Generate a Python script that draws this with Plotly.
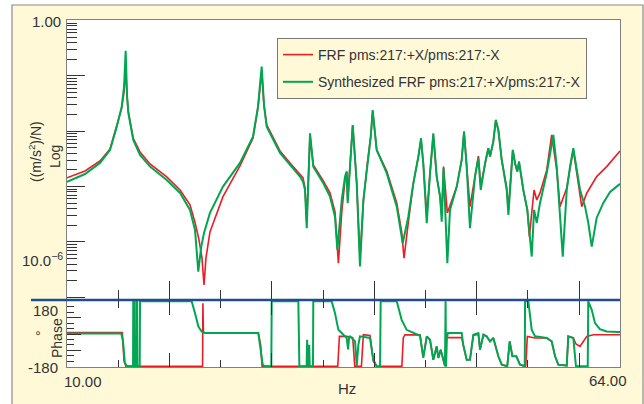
import plotly.graph_objects as go

# ---------------- data ----------------
# Magnitude (accelerance, (m/s^2)/N) - measured FRF (red)
frf_freq = [10.00, 11.76, 13.22, 14.20, 14.85, 15.34, 15.57, 15.73, 15.86, 15.99,
            16.47, 17.13, 18.11, 19.74, 21.04, 22.01, 22.50, 22.89, 23.18, 23.38,
            23.57, 23.96, 25.23, 26.89, 28.16, 28.65, 29.01, 29.24, 29.50, 30.80,
            31.78, 32.75, 33.05, 33.24, 33.41, 33.73, 34.05, 35.03, 35.68, 36.17,
            36.50, 36.83, 37.15, 37.31, 37.41, 37.90, 38.29, 38.61, 38.94, 39.33,
            39.66, 39.85, 40.24, 41.22, 42.20, 42.68, 42.91, 43.33, 43.82, 44.31,
            44.57, 44.79, 45.13, 45.45, 45.77, 46.10, 46.43, 46.59, 46.77, 47.14,
            47.40, 48.06, 48.54, 48.77, 49.03, 49.35, 49.84, 50.17, 50.40, 50.82,
            51.14, 51.31, 51.63, 51.87, 52.12, 52.45, 52.94, 53.10, 53.33, 53.53,
            53.75, 53.97, 54.14, 54.56, 54.95, 55.15, 55.41, 55.61, 55.87, 56.19,
            56.85, 57.33, 57.82, 58.14, 58.80, 59.12, 59.44, 59.93, 60.26, 60.75,
            61.72, 62.70, 64.00]
frf_mag = [1.44e-3, 1.92e-3, 2.91e-3, 4.79e-3, 1.25e-2, 2.64e-2, 5.12e-2, 1.39e-1, 4.34e-2, 2.23e-2,
           7.48e-3, 4.23e-3, 2.57e-3, 1.50e-3, 8.7e-4, 4.68e-4, 2.26e-4, 1.09e-4, 5.16e-5, 1.68e-5,
           5.16e-5, 1.52e-4, 6.6e-4, 2.37e-3, 7.48e-3, 2.64e-2, 1.175e-1, 2.86e-2, 1.30e-2, 4.41e-3,
           2.68e-3, 1.69e-3, 1.44e-3, 9.48e-4, 2.26e-4, 8.57e-3, 2.46e-3, 1.27e-3, 7.7e-4, 3.49e-4,
           4.14e-5, 3.49e-4, 1.32e-3, 1.87e-3, 5.75e-4, 1.30e-2, 1.15e-3, 5.1e-5, 5.3e-4, 2.64e-3,
           8.0e-3, 2.32e-2, 4.60e-3, 1.92e-3, 5.08e-4, 1.52e-4, 5.1e-5, 2.26e-4, 1.15e-3, 3.48e-3,
           6.97e-3, 2.64e-3, 3.08e-4, 1.75e-3, 8.57e-3, 1.52e-3, 6.6e-4, 3.08e-4, 2.30e-3, 3.35e-4,
           4.68e-4, 1.00e-3, 3.03e-3, 9.84e-3, 2.30e-3, 4.35e-4, 1.52e-3, 3.58e-3, 1.03e-3, 2.64e-3,
           4.93e-3, 3.48e-3, 6.49e-3, 1.60e-2, 1.055e-2, 3.03e-3, 9.48e-4, 3.8e-4, 1.32e-3, 4.60e-3,
           2.64e-3, 1.87e-3, 2.83e-3, 8.7e-4, 3.8e-4, 1.25e-4, 3.8e-4, 8.7e-4, 5.75e-4, 7.7e-4,
           2.00e-3, 8.57e-3, 2.00e-3, 4.35e-4, 9.48e-4, 2.30e-3, 4.60e-3, 1.15e-3, 4.35e-4, 7.6e-4,
           1.52e-3, 2.30e-3, 4.41e-3]

# Magnitude - synthesized FRF (green)
syn_freq = [10.00, 11.76, 13.22, 14.20, 14.85, 15.34, 15.57, 15.73, 15.86, 15.99,
            16.47, 17.13, 18.11, 19.74, 21.04, 22.01, 22.50, 22.82, 23.09, 23.38,
            23.96, 25.23, 26.89, 28.16, 28.65, 29.01, 29.24, 29.50, 30.80, 31.78,
            32.75, 33.05, 33.24, 33.41, 33.73, 34.05, 35.03, 35.68, 36.17, 36.40,
            36.83, 37.15, 37.31, 37.41, 37.90, 38.29, 38.61, 38.94, 39.33, 39.66,
            39.85, 40.24, 41.22, 42.20, 42.68, 42.78, 43.33, 43.82, 44.31, 44.57,
            44.79, 45.13, 45.45, 45.77, 46.10, 46.43, 46.59, 46.77, 47.14, 47.40,
            48.06, 48.54, 48.77, 49.03, 49.35, 49.84, 50.17, 50.40, 50.82, 51.14,
            51.31, 51.63, 51.87, 52.12, 52.45, 52.94, 53.10, 53.33, 53.53, 53.75,
            53.97, 54.14, 54.56, 54.95, 55.38, 55.61, 55.87, 56.19, 56.85, 57.49,
            57.82, 58.41, 58.80, 59.12, 59.44, 60.10, 60.59, 60.91, 61.24, 61.72,
            62.37, 63.03, 64.00]
syn_mag = [1.22e-3, 1.69e-3, 2.68e-3, 4.60e-3, 1.20e-2, 2.75e-2, 6.31e-2, 2.85e-1, 4.52e-2, 2.14e-2,
           6.97e-3, 3.73e-3, 2.30e-3, 1.32e-3, 7.7e-4, 3.8e-4, 1.65e-4, 2.92e-5, 7.82e-5, 1.46e-4,
           3.35e-4, 1.00e-3, 2.68e-3, 8.0e-3, 2.78e-2, 1.47e-1, 2.98e-2, 1.21e-2, 4.06e-3, 2.46e-3,
           1.52e-3, 1.22e-3, 8.7e-4, 1.77e-4, 9.2e-3, 2.30e-3, 1.15e-3, 6.6e-4, 2.87e-4, 7.2e-5,
           5.75e-4, 1.52e-3, 1.87e-3, 5.01e-4, 1.30e-2, 1.15e-3, 3.6e-5, 5.75e-4, 2.64e-3, 8.0e-3,
           2.42e-2, 4.60e-3, 1.75e-3, 4.35e-4, 1.25e-4, 9.5e-5, 2.87e-4, 1.15e-3, 3.48e-3, 7.48e-3,
           2.64e-3, 2.18e-4, 1.75e-3, 9.2e-3, 1.52e-3, 6.6e-4, 2.33e-4, 2.18e-3, 4.14e-5, 3.8e-4,
           1.00e-3, 3.03e-3, 9.84e-3, 2.30e-3, 1.77e-4, 1.52e-3, 3.26e-3, 8.7e-4, 2.64e-3, 4.93e-3,
           3.48e-3, 6.49e-3, 1.60e-2, 1.055e-2, 3.03e-3, 8.7e-4, 3.08e-4, 1.32e-3, 4.60e-3, 2.64e-3,
           1.87e-3, 2.83e-3, 8.7e-4, 3.8e-4, 5.45e-5, 3.8e-4, 2.21e-4, 5.08e-4, 1.77e-3, 8.57e-3,
           2.30e-3, 5.45e-5, 8.7e-4, 2.30e-3, 4.93e-3, 8.7e-4, 4.35e-4, 2.18e-4, 8.26e-5, 2.72e-4,
           5.08e-4, 8.0e-4, 1.12e-3]

# Phase (degrees) - measured FRF (red)
frf_ph_freq = [10.00, 15.40, 15.57, 15.75, 23.24, 23.27, 23.32, 23.50, 28.68, 28.91,
               29.05, 36.44, 36.60, 37.31, 37.90, 38.10, 38.75, 38.94, 39.59, 39.91,
               40.24, 42.70, 42.84, 43.00, 44.47, 44.79, 45.13, 45.45, 45.77, 46.10,
               46.26, 46.49, 46.75, 46.91, 47.05, 48.54, 48.70, 49.03, 49.35, 49.68,
               50.17, 50.33, 50.66, 50.98, 51.31, 51.63, 52.12, 52.45, 52.99, 53.23,
               53.49, 53.88, 54.23, 54.56, 54.80, 54.95, 55.71, 56.85, 57.33, 57.66,
               57.98, 58.80, 58.95, 59.44, 59.70, 60.10, 60.42, 60.75, 61.40, 64.00]
frf_phase = [8, 8, -150, -178, -178, 170, 10, 5, 5, -60,
             -178, -178, -13, -13, -20, -178, -178, -4, -8, -150,
             -178, -178, -20, -4, -5, -130, -13, -32, -142, -68,
             -132, -87, -151, -175, -20, -20, -65, -142, -142, -8,
             0, -87, -4, -13, -41, -22, -123, -169, -178, -41,
             -123, -123, -169, -176, -176, -13, -22, -22, -41, -123,
             -169, -174, -13, -22, -55, -68, -41, -13, -4, -4]

# Phase (degrees) - synthesized FRF (green)
syn_ph_freq = [10.00, 15.30, 15.47, 15.65, 15.86, 16.45, 16.47, 16.55, 16.57, 16.75,
               16.77, 16.85, 16.87, 17.10, 17.13, 22.18, 22.50, 22.83, 23.15, 23.50,
               28.68, 28.85, 29.11, 29.30, 29.95, 29.99, 32.59, 32.69, 33.40, 33.45,
               33.50, 33.65, 33.70, 34.02, 34.05, 35.85, 36.17, 36.50, 36.66, 37.00,
               37.31, 37.45, 37.55, 37.64, 38.13, 38.29, 38.45, 38.61, 39.59, 39.91,
               40.24, 40.57, 40.63, 42.20, 42.68, 43.17, 44.47, 44.79, 45.13, 45.45,
               45.77, 46.10, 46.26, 46.49, 46.75, 46.91, 46.97, 47.01, 47.10, 47.20,
               48.54, 48.70, 49.03, 49.35, 49.68, 50.17, 50.33, 50.66, 50.98, 51.31,
               51.63, 52.12, 52.45, 52.99, 53.23, 53.49, 53.88, 54.23, 54.56, 54.70,
               54.73, 55.05, 55.38, 55.71, 56.85, 57.33, 57.66, 57.98, 58.80, 58.95,
               59.44, 59.70, 60.85, 60.90, 61.24, 61.56, 62.04, 62.70, 63.84, 64.00]
syn_phase = [3, 3, -40, -160, -178, -178, 180, 180, -178, -178,
             180, 180, -178, -178, 180, 180, 115, 41, 14, 5,
             5, -68, -169, -178, -178, 180, 180, -178, -178, -32,
             -178, -60, -178, -178, 180, 180, 115, 23, 14, -5,
             -22, -85, -15, -13, -41, -178, -60, -13, -22, -142,
             -179, -179, 180, 180, 78, 23, -10, -130, -13, -32,
             -142, -68, -132, -87, -151, -178, 180, -180, -20, 5,
             5, -60, -142, -142, -4, 5, -87, -4, -13, -41,
             -22, -123, -169, -178, -41, -123, -123, -169, -174, -178,
             180, 180, 23, -13, -22, -41, -123, -169, -174, -13,
             -22, -178, -176, 180, 133, 60, 27, 14, 11, 11]

legend_names = ["FRF pms:217:+X/pms:217:-X", "Synthesized FRF pms:217:+X/pms:217:-X"]

# ---------------- styling ----------------
RED = "#EC1C24"
GREEN = "#00A651"
BLUE = "#1F4E8C"
CREAM = "#FFF9D8"
FONT = "Liberation Sans, Arial, sans-serif"
TXT = "#333333"
AX = "#808080"

W, H = 644, 404
L, R, T, B = 67, 24, 20, 37
PW, PH = W - L - R, H - T - B


def px(xp):
    return (xp - L) / PW


def py(yp):
    return (H - B - yp) / PH


fig = go.Figure()
fig.add_trace(go.Scatter(x=frf_freq, y=frf_mag, mode="lines", name=legend_names[0],
                         line=dict(color=RED, width=1.6), legendgroup="a",
                         xaxis="x", yaxis="y"))
fig.add_trace(go.Scatter(x=syn_freq, y=syn_mag, mode="lines", name=legend_names[1],
                         line=dict(color=GREEN, width=2), legendgroup="b",
                         xaxis="x", yaxis="y"))
fig.add_trace(go.Scatter(x=frf_ph_freq, y=frf_phase, mode="lines", showlegend=False,
                         line=dict(color=RED, width=1.6), xaxis="x2", yaxis="y2"))
fig.add_trace(go.Scatter(x=syn_ph_freq, y=syn_phase, mode="lines", showlegend=False,
                         line=dict(color=GREEN, width=2), xaxis="x2", yaxis="y2"))

top_bottom = py(299)
ph_top = py(301)

xcommon = dict(range=[10, 64], showline=True, linecolor=AX, linewidth=1, mirror=True,
               ticks="inside", tick0=10, dtick=10, ticklen=18, tickcolor=TXT,
               showticklabels=False, showgrid=False, zeroline=False,
               minor=dict(ticks="inside", dtick=5, tick0=10, ticklen=9, tickcolor=TXT, showgrid=False))

fig.update_layout(
    width=W, height=H,
    margin=dict(l=L, r=R, t=T, b=B, pad=0),
    paper_bgcolor="white",
    plot_bgcolor="white",
    font=dict(family=FONT, size=14, color=TXT),
    xaxis=dict(anchor="y", **xcommon),
    xaxis2=dict(anchor="y2", matches="x", **{**xcommon, "ticklen": 14, "mirror": "ticks",
                                              "minor": dict(ticks="inside", dtick=5, tick0=10, ticklen=7,
                                                            tickcolor=TXT, showgrid=False)}),
    yaxis=dict(type="log", domain=[top_bottom, 1], range=[-5.03, 0.01], anchor="x",
               showline=True, linecolor=AX, linewidth=1, mirror=True,
               ticks="inside", dtick=1, ticklen=18, tickcolor=TXT, showticklabels=False,
               showgrid=False, zeroline=False,
               minor=dict(ticks="inside", dtick="D1", ticklen=10, tickcolor=TXT, showgrid=False)),
    yaxis2=dict(domain=[0, ph_top], range=[-182, 182], anchor="x2",
                showline=True, linecolor=AX, linewidth=1, mirror=True,
                ticks="inside", tick0=0, dtick=90, ticklen=14, tickcolor=TXT, showticklabels=False,
                showgrid=False, zeroline=False,
                minor=dict(ticks="inside", dtick=30, tick0=0, ticklen=7, tickcolor=TXT, showgrid=False)),
    legend=dict(x=px(277), y=py(38), xanchor="left", yanchor="top",
                bgcolor=CREAM, bordercolor="#777777", borderwidth=1,
                font=dict(family=FONT, size=14, color=TXT),
                traceorder="grouped", tracegroupgap=6, itemwidth=30),
    showlegend=True,
)

shapes = [
    # cream outer frame
    dict(type="rect", xref="paper", yref="paper", x0=px(12), x1=px(643), y0=py(410), y1=py(5),
         fillcolor=CREAM, line=dict(color="#8a8a8a", width=1.2), layer="below"),
    # white plotting area
    dict(type="rect", xref="paper", yref="paper", x0=0, x1=1, y0=0, y1=1,
         fillcolor="white", line=dict(width=0), layer="below"),
    # blue separator between magnitude and phase panels
    dict(type="line", xref="paper", yref="paper", x0=px(31), x1=1, y0=py(300), y1=py(300),
         line=dict(color=BLUE, width=2.5), layer="above"),
]
fig.update_layout(shapes=shapes)

ann = [
    dict(text="1.00", x=px(63), y=py(22), xanchor="right", yanchor="middle", font=dict(size=15)),
    dict(text="10.0<sup>−6</sup>", x=px(65), y=py(259), xanchor="right", yanchor="middle", font=dict(size=15)),
    dict(text="180", x=px(60), y=py(310), xanchor="right", yanchor="middle", font=dict(size=15)),
    dict(text="-180", x=px(60), y=py(367), xanchor="right", yanchor="middle", font=dict(size=15)),
    dict(text="10.00", x=px(62), y=py(381), xanchor="left", yanchor="middle", font=dict(size=15)),
    dict(text="64.00", x=px(629), y=py(380), xanchor="right", yanchor="middle", font=dict(size=15)),
    dict(text="Hz", x=px(347), y=py(388), xanchor="center", yanchor="middle", font=dict(size=15)),
    dict(text="((m/s<sup>2</sup>)/N)", x=px(35), y=py(152), textangle=-90,
         xanchor="center", yanchor="middle", font=dict(size=14)),
    dict(text="Log", x=px(55), y=py(157), textangle=-90, xanchor="center", yanchor="middle",
         font=dict(size=14)),
    dict(text="Phase", x=px(57), y=py(338), textangle=-90, xanchor="center", yanchor="middle",
         font=dict(size=14)),
    dict(text="°", x=px(41), y=py(333), textangle=-90, xanchor="center", yanchor="middle",
         font=dict(size=14)),
]
for a in ann:
    a.update(xref="paper", yref="paper", showarrow=False)
    a.setdefault("font", {})
    a["font"].update(family=FONT, color=TXT)
fig.update_layout(annotations=ann)

fig.write_html("out.html")
